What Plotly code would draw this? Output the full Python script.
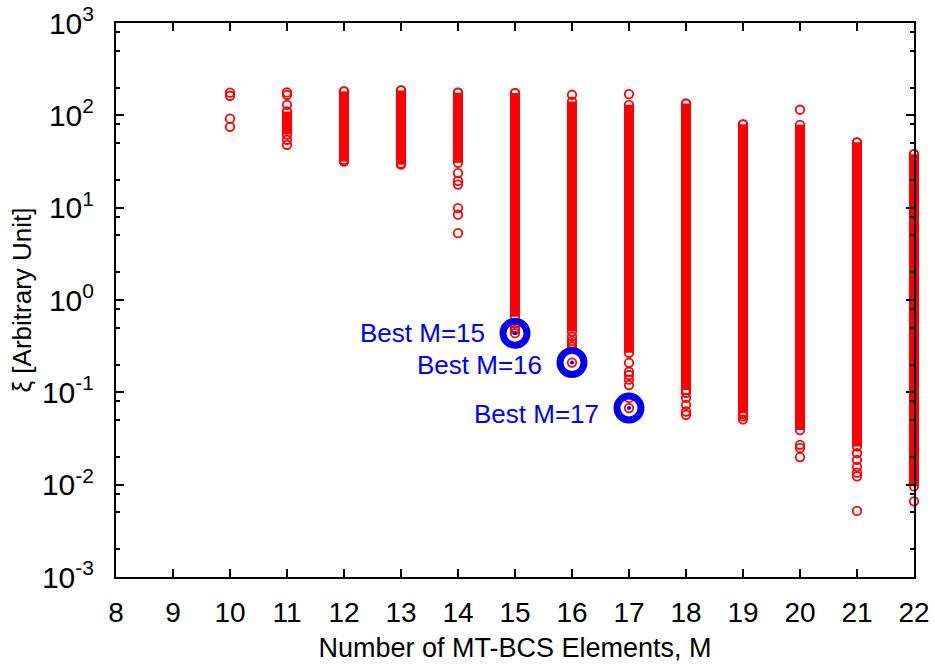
import numpy as np
import plotly.graph_objects as go

# Number of MT-BCS elements
m_values = [10, 11, 12, 13, 14, 15, 16, 17, 18, 19, 20, 21, 22]

# Densely populated xi range for each M (None where only isolated solutions exist)
band_top = [None, 110, 182, 186, 176, 174, 141, 130, 134, 80, 79, 51, 38]
band_bottom = [None, 62, 31.6, 29.2, 30.6, 0.66, 0.456, 0.268, 0.106, 0.06, 0.039, 0.0259, 0.0096]

# Isolated solutions outside / at the edge of the dense range
sparse_xi = {
    10: [176, 163, 92, 75],
    11: [177, 167, 130, 54.4, 48],
    12: [182, 140, 33],
    13: [186, 30],
    14: [176, 23.7, 19.5, 17.8, 9.9, 8.4, 5.3],
    15: [174, 0.56, 0.50, 0.475, 0.437],
    16: [167, 0.40, 0.36, 0.34, 0.313, 0.21],
    17: [170, 0.209, 0.167, 0.154, 0.137, 0.12, 0.087, 0.0675],
    18: [134, 0.099, 0.087, 0.073, 0.062, 0.057],
    19: [80, 0.058, 0.055, 0.051],
    20: [115, 0.027, 0.025, 0.0199],
    21: [51, 0.0219, 0.0186, 0.0156, 0.0135, 0.0123, 0.0052],
    22: [38, 0.0066],
}

# Best (minimum xi) configurations that are highlighted
best_m = [15, 16, 17]
best_xi = [0.437, 0.21, 0.0675]
best_labels = ["Best M=15", "Best M=16", "Best M=17"]

x_ticks = list(range(8, 23))
y_ticks = [1e-3, 1e-2, 1e-1, 1e0, 1e1, 1e2, 1e3]
y_ticktext = ["10<sup>-3</sup>", "10<sup>-2</sup>", "10<sup>-1</sup>", "10<sup>0</sup>",
              "10<sup>1</sup>", "10<sup>2</sup>", "10<sup>3</sup>"]
y_minor = [m * 10.0 ** e for e in range(-3, 3) for m in (2, 5, 8)]

RED = "#ff0000"
BLUE = "#0000f0"
FONT = "Liberation Sans, Arial, Helvetica, sans-serif"

# Geometry: the framed axes span [8, 22]; the data layer sits on a slightly
# wider, hidden axis with the same px-per-unit scale, so marks on the last
# column are not cut at the frame.
X_MIN, X_MAX = 8, 22
PAD_PX = 6
FRAME_PX = 798
px_per_unit = FRAME_PX / (X_MAX - X_MIN)
data_range = [X_MIN - PAD_PX / px_per_unit, X_MAX + PAD_PX / px_per_unit]
total_px = FRAME_PX + 2 * PAD_PX
frame_domain = [PAD_PX / total_px, 1 - PAD_PX / total_px]

fig = go.Figure()

red_marker = dict(symbol="circle-open", size=8.5, color=RED, line=dict(width=1.8, color=RED))

# Dense ranges: an error bar spanning bottom..top, with circle markers at both ends
for m, top, bot in zip(m_values, band_top, band_bottom):
    if top is None:
        continue
    fig.add_trace(go.Scatter(
        x=[m, m], y=[top, bot], mode="markers", marker=red_marker,
        error_y=dict(type="data", symmetric=False, array=[0, 0], arrayminus=[top - bot, 0],
                     thickness=10, width=0, color=RED),
        cliponaxis=False, showlegend=False, hoverinfo="skip",
    ))

# Isolated solutions
sx, sy = [], []
for m in m_values:
    for v in sparse_xi[m]:
        sx.append(m)
        sy.append(v)
fig.add_trace(go.Scatter(
    x=sx, y=sy, mode="markers", marker=red_marker,
    cliponaxis=False, showlegend=False, hoverinfo="skip",
))

# Highlight rings and centre dots for the best configurations
fig.add_trace(go.Scatter(
    x=best_m, y=best_xi, mode="markers",
    marker=dict(symbol="circle-open", size=24, color=BLUE, line=dict(width=7, color=BLUE)),
    cliponaxis=False, showlegend=False, hoverinfo="skip",
))
fig.add_trace(go.Scatter(
    x=best_m, y=best_xi, mode="markers",
    marker=dict(symbol="circle", size=4, color=BLUE),
    cliponaxis=False, showlegend=False, hoverinfo="skip",
))

for m, v, txt, ys in zip(best_m, best_xi, best_labels, [0, -2, -6]):
    fig.add_annotation(
        x=m, y=np.log10(v), xref="x", yref="y", text=txt, showarrow=False,
        xanchor="right", yanchor="middle", xshift=-28, yshift=ys,
        font=dict(family=FONT, size=26, color=BLUE),
    )

fig.update_layout(
    width=935, height=664,
    margin=dict(l=116 - PAD_PX, r=21 - PAD_PX, t=23, b=87, autoexpand=False),
    plot_bgcolor="rgba(0,0,0,0)", paper_bgcolor="white",
    showlegend=False,
    # hidden data axes
    xaxis=dict(range=data_range, domain=[0, 1], visible=False, fixedrange=True),
    yaxis=dict(type="log", range=[-3, 3], domain=[0, 1], visible=False, fixedrange=True),
    # framed axes drawn on top of the data
    xaxis2=dict(
        range=[X_MIN, X_MAX], domain=frame_domain, anchor="y2",
        tickmode="array", tickvals=x_ticks,
        ticks="inside", ticklen=8, tickwidth=1.5, tickcolor="black",
        showline=True, linecolor="black", linewidth=2, mirror="ticks",
        showgrid=False, zeroline=False,
        tickfont=dict(family=FONT, size=28, color="black"),
        ticklabelstandoff=9,
        title=dict(text="Number of MT-BCS Elements, M", standoff=12,
                   font=dict(family=FONT, size=27, color="black")),
    ),
    yaxis2=dict(
        type="log", range=[-3, 3], domain=[0, 1], anchor="x2",
        tickmode="array", tickvals=y_ticks, ticktext=y_ticktext,
        ticks="inside", ticklen=8, tickwidth=1.5, tickcolor="black",
        minor=dict(tickmode="array", tickvals=y_minor, ticks="inside", ticklen=4,
                   tickwidth=1.5, tickcolor="black", showgrid=False),
        showline=True, linecolor="black", linewidth=2, mirror="ticks",
        showgrid=False, zeroline=False,
        tickfont=dict(family=FONT, size=30, color="black"),
        ticklabelstandoff=14,
        title=dict(text="ξ [Arbitrary Unit]", standoff=3,
                   font=dict(family=FONT, size=26, color="black")),
    ),
)

# An empty trace so the framed subplot is rendered above the data subplot
fig.add_trace(go.Scatter(x=[], y=[], xaxis="x2", yaxis="y2", showlegend=False, hoverinfo="skip"))

fig.write_html("out.html")
